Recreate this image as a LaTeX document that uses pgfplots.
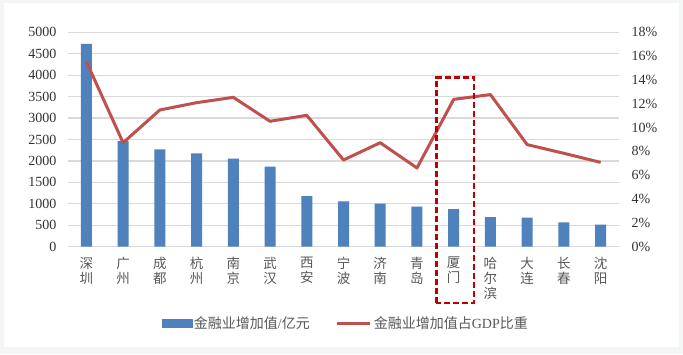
\documentclass[border=0pt]{standalone}
\usepackage{fontspec}
\setmainfont{Liberation Serif}
\newfontfamily\cjk{Noto Sans CJK SC}
\usepackage{pgfplots}
\pgfplotsset{compat=1.18}
\definecolor{barblue}{HTML}{4F81BD}
\definecolor{linered}{HTML}{C0504D}
\definecolor{boxred}{HTML}{C00000}
\definecolor{gridgray}{HTML}{D9D9D9}
\definecolor{numgray}{HTML}{333333}
\definecolor{txtgray}{HTML}{595959}
\definecolor{bggray}{HTML}{F4F5F5}
\begin{document}
\begin{tikzpicture}
\fill[bggray] (0pt,0pt) rectangle (683pt,354pt);
\fill[white] (3.5pt,7.3pt) rectangle (679pt,351pt);
\begin{axis}[
  at={(68pt,107.3pt)}, anchor=south west,
  scale only axis, width=551pt, height=214.4pt,
  xmin=-0.5, xmax=14.5, ymin=0, ymax=5000,
  axis x line*=bottom, axis y line*=left,
  x axis line style={draw=gridgray, line width=1.2pt, -},
  y axis line style={draw=none},
  major tick length=0pt,
  ytick={0,500,...,5000},
  xtick={0,...,14},
  xticklabels={{深\\圳},{广\\州},{成\\都},{杭\\州},{南\\京},{武\\汉},{西\\安},{宁\\波},{济\\南},{青\\岛},{厦\\门},{哈\\尔\\滨},{大\\连},{长\\春},{沈\\阳}},
  xticklabel style={align=center, font=\cjk\fontsize{13.5}{14.8}\selectfont, text=txtgray, yshift=-7pt},
  yticklabel style={font=\fontsize{14}{16}\selectfont, text=numgray, xshift=-8pt},
  /pgf/number format/assume math mode=true,
  /pgf/number format/1000 sep={},
  ymajorgrids, grid style={gridgray, line width=1.2pt},
  clip=false,
]
\addplot[ybar, bar width=11pt, fill=barblue, draw=none] coordinates {
 (0,4728) (1,2465) (2,2270) (3,2177) (4,2053) (5,1866) (6,1182) (7,1058)
 (8,1003) (9,933) (10,879) (11,692) (12,677) (13,568) (14,513)};
\end{axis}
\begin{axis}[
  at={(68pt,107.3pt)}, anchor=south west,
  scale only axis, width=551pt, height=214.4pt,
  xmin=-0.5, xmax=14.5, ymin=0, ymax=18,
  axis x line=none, axis y line*=right,
  y axis line style={draw=none},
  major tick length=0pt,
  ytick={0,2,...,18},
  yticklabel={\pgfmathprintnumber{\tick}\%},
  yticklabel style={font=\fontsize{14}{16}\selectfont, text=numgray, xshift=9pt, anchor=west},
  /pgf/number format/assume math mode=true,
  clip=false,
  legend style={at={(0.504,-0.356)}, anchor=center, draw=none, fill=none,
    legend columns=2, font=\fontsize{14}{16}\selectfont, text=txtgray,
    /tikz/every even column/.append style={column sep=24pt}},
]
\addlegendimage{legend image code/.code={\fill[barblue] (0pt,-4pt) rectangle (30pt,4pt);}}
\addlegendentry{{\cjk 金融业增加值}/{\cjk 亿元}}
\addplot[linered, line width=3pt, no marks, line join=round,
  legend image code/.code={\draw[linered, line width=3pt] (0pt,0pt) -- (33pt,0pt);}] coordinates {
 (0,15.54) (1,8.73) (2,11.48) (3,12.09) (4,12.54) (5,10.53) (6,11.03) (7,7.28)
 (8,8.73) (9,6.61) (10,12.37) (11,12.77) (12,8.57) (13,7.84) (14,7.08)};
\addlegendentry{{\cjk 金融业增加值占}GDP{\cjk 比重}}
\draw[boxred, line width=2.4pt, dash pattern=on 6pt off 3pt] (axis cs:9.53,-4.73) rectangle (axis cs:10.56,14.19);
\end{axis}
\end{tikzpicture}
\end{document}
